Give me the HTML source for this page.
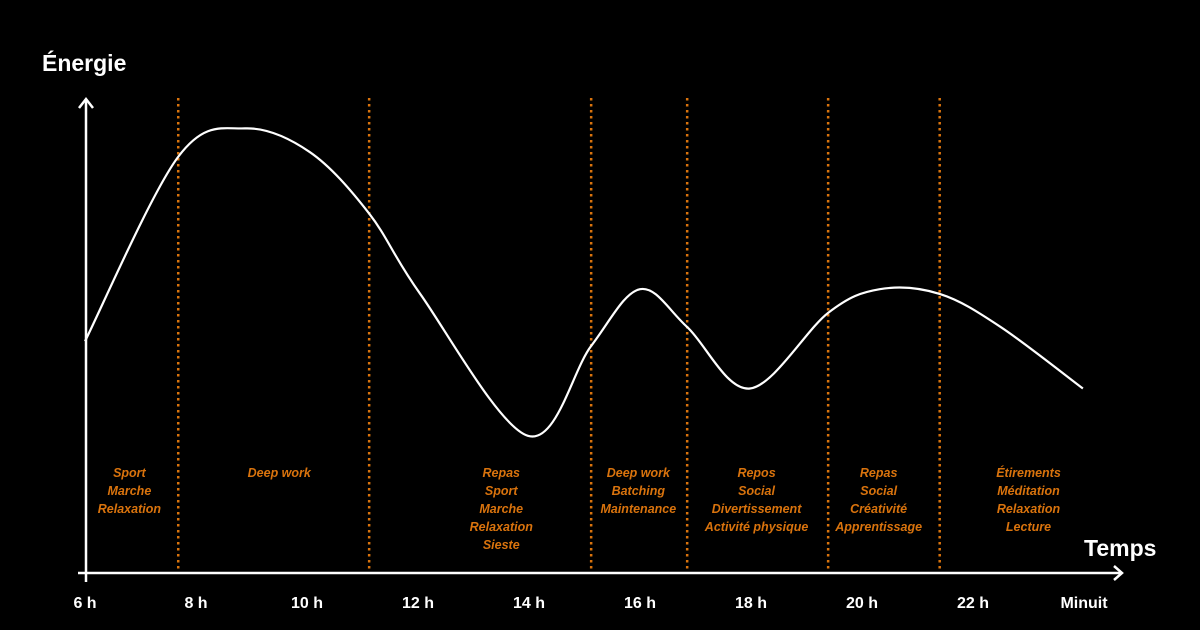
<!DOCTYPE html>
<html><head><meta charset="utf-8"><style>
html,body{margin:0;padding:0;background:#000;}
svg{display:block;font-family:"Liberation Sans",sans-serif;}
</style></head><body>
<svg id="chart" width="1200" height="630" viewBox="0 0 1200 630">
<rect width="1200" height="630" fill="#000"/>
<text x="42" y="71" fill="#fff" font-size="23" font-weight="bold">Énergie</text>
<text x="1084" y="556" fill="#fff" font-size="23" font-weight="bold">Temps</text>
<g id="dividers"></g>
<g id="activities"></g>
<line x1="86" y1="573" x2="86" y2="100" stroke="#fff" stroke-width="2.5"/>
<path d="M79,108 L86,99 L93,108" fill="none" stroke="#fff" stroke-width="2.5"/>
<line x1="78" y1="573" x2="1122" y2="573" stroke="#fff" stroke-width="2.5"/>
<path d="M1114,566 L1122,573 L1114,580" fill="none" stroke="#fff" stroke-width="2.5"/>
<line x1="86" y1="573" x2="86" y2="582" stroke="#fff" stroke-width="2.5"/>
<g id="ticks"></g>
<path id="curve" fill="none" stroke="#fff" stroke-width="2.2"/>
</svg>
<script>
const hours = [6, 7.68, 8.88, 10.05, 11.12, 12.04, 13.98, 15.12, 16, 16.85, 17.98, 19.39, 20.32, 21.4, 22.5, 23.98];
const energy = [49, 88, 94, 89, 76, 59, 29, 48, 60, 52, 39, 55, 60, 59, 52, 39];
const tickHours = [6, 8, 10, 12, 14, 16, 18, 20, 22, 24];
const tickLabels = ["6 h", "8 h", "10 h", "12 h", "14 h", "16 h", "18 h", "20 h", "22 h", "Minuit"];
const dividerHours = [7.68, 11.12, 15.12, 16.85, 19.39, 21.4];
const activityCenters = [6.8, 9.5, 13.5, 15.97, 18.1, 20.3, 23.0];
const activityLists = [
  ["Sport","Marche","Relaxation"],
  ["Deep work"],
  ["Repas","Sport","Marche","Relaxation","Sieste"],
  ["Deep work","Batching","Maintenance"],
  ["Repos","Social","Divertissement","Activité physique"],
  ["Repas","Social","Créativité","Apprentissage"],
  ["Étirements","Méditation","Relaxation","Lecture"]
];
const NS = "http://www.w3.org/2000/svg";
function xScale(h){ return 85 + (h - 6) * 55.5; }
function yScale(e){ return 573 - e * 4.73; }

const tg = document.getElementById('ticks');
tickHours.forEach((h,i)=>{
  const t = document.createElementNS(NS,'text');
  t.setAttribute('x', xScale(h)); t.setAttribute('y', 608);
  t.setAttribute('text-anchor','middle'); t.setAttribute('fill','#fff');
  t.setAttribute('font-size','16'); t.setAttribute('font-weight','bold');
  t.textContent = tickLabels[i];
  
  
  tg.appendChild(t);
});

const dg = document.getElementById('dividers');
dividerHours.forEach(h=>{
  const l = document.createElementNS(NS,'line');
  const x = xScale(h);
  l.setAttribute('x1',x); l.setAttribute('x2',x); l.setAttribute('y1',98); l.setAttribute('y2',570);
  l.setAttribute('stroke','#d9730d'); l.setAttribute('stroke-width','2.5'); l.setAttribute('stroke-dasharray','2.5 3.5');
  
  
  dg.appendChild(l);
});

const ag = document.getElementById('activities');
activityLists.forEach((list,i)=>{
  list.forEach((s,j)=>{
    const t = document.createElementNS(NS,'text');
    t.setAttribute('x', xScale(activityCenters[i])); t.setAttribute('y', 477 + j*18);
    t.setAttribute('text-anchor','middle'); t.setAttribute('fill','#d9730d');
    t.setAttribute('font-size','12.5'); t.setAttribute('font-weight','bold'); t.setAttribute('font-style','italic');
    t.textContent = s;
    
    
    ag.appendChild(t);
  });
});

const pts = hours.map((h,i)=>[xScale(h), yScale(energy[i])]);
let d = `M${pts[0][0]},${pts[0][1]}`;
for(let i=0;i<pts.length-1;i++){
  const p0 = pts[Math.max(0,i-1)], p1 = pts[i], p2 = pts[i+1], p3 = pts[Math.min(pts.length-1,i+2)];
  const c1x = p1[0] + (p2[0]-p0[0])/6, c1y = p1[1] + (p2[1]-p0[1])/6;
  const c2x = p2[0] - (p3[0]-p1[0])/6, c2y = p2[1] - (p3[1]-p1[1])/6;
  d += ` C${c1x},${c1y} ${c2x},${c2y} ${p2[0]},${p2[1]}`;
}
document.getElementById('curve').setAttribute('d', d);
</script>
</body></html>
